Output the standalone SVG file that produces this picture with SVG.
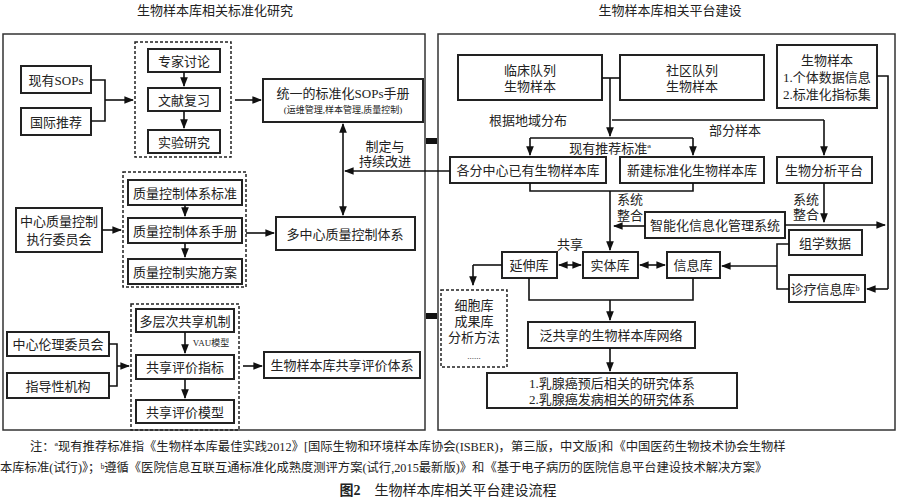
<svg xmlns="http://www.w3.org/2000/svg" width="897" height="500" viewBox="0 0 897 500">
<defs>
<marker id="a" viewBox="0 0 10 10" refX="9" refY="5" markerWidth="6" markerHeight="6" orient="auto-start-reverse"><path d="M0,1 L10,5 L0,9 z" fill="#111"/></marker>
<style>
text{font-family:"Liberation Serif","Noto Sans CJK SC",serif;fill:#222;font-size:13px;text-anchor:middle;dominant-baseline:central}
.b{fill:#fff;stroke:#222;stroke-width:2}
.p{fill:none;stroke:#333;stroke-width:1.5}
.d{fill:none;stroke:#222;stroke-width:1.5;stroke-dasharray:3 2}
.c path{fill:none;stroke:#111;stroke-width:1.6}
.ar{marker-end:url(#a)}
.ab{marker-end:url(#a);marker-start:url(#a)}
.s{font-size:9px}
.f{font-size:12.3px;text-anchor:start}
</style>
</defs>
<rect width="897" height="500" fill="#fff"/>
<text x="215" y="10">生物样本库相关标准化研究</text>
<text x="670" y="10">生物样本库相关平台建设</text>
<rect class="p" x="3" y="34" width="422" height="396"/>
<rect class="p" x="438" y="34" width="457" height="396"/>

<g id="g1"><rect class="d" x="135" y="42" width="96" height="115"/></g>
<g id="g2"><rect class="d" x="123" y="172" width="123" height="115"/></g>
<g id="g3"><rect class="d" x="131" y="304" width="108" height="126"/></g>

<g id="sops"><rect class="b" x="21" y="66" width="70" height="27"/><text x="56" y="80">现有SOPs</text></g>
<g id="gjtj"><rect class="b" x="21" y="108" width="70" height="27"/><text x="56" y="122">国际推荐</text></g>
<g id="zjtl"><rect class="b" x="148" y="49" width="72" height="23"/><text x="184" y="61">专家讨论</text></g>
<g id="wxfx"><rect class="b" x="148" y="88" width="72" height="23"/><text x="184" y="100">文献复习</text></g>
<g id="syyj"><rect class="b" x="148" y="130" width="72" height="23"/><text x="184" y="142">实验研究</text></g>
<g id="tysops"><rect class="b" x="263" y="79" width="160" height="43"/><text x="343" y="93">统一的标准化SOPs手册</text><text x="343" y="110" class="s">(运维管理,样本管理,质量控制)</text></g>
<g id="zkbz"><rect class="b" x="128" y="180" width="114" height="25"/><text x="185" y="193">质量控制体系标准</text></g>
<g id="zksc"><rect class="b" x="128" y="218" width="114" height="25"/><text x="185" y="231">质量控制体系手册</text></g>
<g id="zkfa"><rect class="b" x="128" y="259" width="114" height="25"/><text x="185" y="272">质量控制实施方案</text></g>
<g id="zxwyh"><rect class="b" x="16" y="208" width="86" height="44"/><text x="59" y="221">中心质量控制</text><text x="59" y="239">执行委员会</text></g>
<g id="dzx"><rect class="b" x="276" y="217" width="139" height="33"/><text x="345" y="234">多中心质量控制体系</text></g>
<g id="dcc"><rect class="b" x="136" y="309" width="98" height="23"/><text x="185" y="321">多层次共享机制</text></g>
<g id="gxzb"><rect class="b" x="136" y="355" width="98" height="24"/><text x="185" y="367">共享评价指标</text></g>
<g id="gxmx"><rect class="b" x="136" y="400" width="98" height="23"/><text x="185" y="412">共享评价模型</text></g>
<g id="llwyh"><rect class="b" x="7" y="332" width="102" height="24"/><text x="58" y="344">中心伦理委员会</text></g>
<g id="zdx"><rect class="b" x="7" y="373" width="102" height="25"/><text x="58" y="386">指导性机构</text></g>
<g id="gxtx"><rect class="b" x="264" y="352" width="156" height="26"/><text x="342" y="365">生物样本库共享评价体系</text></g>
<text x="385" y="146">制定与</text><text x="385" y="161">持续改进</text>
<text x="211" y="343" class="s">VAU模型</text>

<g id="lc"><rect class="b" x="458" y="55" width="144" height="45"/><text x="530" y="70">临床队列</text><text x="530" y="86">生物样本</text></g>
<g id="sq"><rect class="b" x="620" y="55" width="144" height="45"/><text x="692" y="70">社区队列</text><text x="692" y="86">生物样本</text></g>
<g id="swyb"><rect class="b" x="777" y="45" width="100" height="63"/><text x="827" y="60">生物样本</text><text x="827" y="77">1.个体数据信息</text><text x="827" y="94">2.标准化指标集</text></g>
<g id="gfzx"><rect class="b" x="450" y="157" width="156" height="26"/><text x="528" y="170">各分中心已有生物样本库</text></g>
<g id="xj"><rect class="b" x="620" y="157" width="144" height="26"/><text x="692" y="170">新建标准化生物样本库</text></g>
<g id="fxpt"><rect class="b" x="777" y="157" width="95" height="26"/><text x="824" y="170">生物分析平台</text></g>
<g id="znh"><rect class="b" x="645" y="212" width="140" height="26"/><text x="715" y="225">智能化信息化管理系统</text></g>
<g id="zxsj"><rect class="b" x="789" y="230" width="73" height="25"/><text x="825" y="243">组学数据</text></g>
<g id="zlxx"><rect class="b" x="789" y="275" width="76" height="27"/><text x="825" y="289">诊疗信息库ᵇ</text></g>
<g id="ysk"><rect class="b" x="502" y="252" width="55" height="26"/><text x="529" y="265">延伸库</text></g>
<g id="stk"><rect class="b" x="583" y="252" width="55" height="26"/><text x="610" y="265">实体库</text></g>
<g id="xxk"><rect class="b" x="667" y="252" width="53" height="26"/><text x="693" y="265">信息库</text></g>
<g id="xbk"><rect class="d" x="441" y="290" width="66" height="77"/><text x="474" y="305">细胞库</text><text x="474" y="321">成果库</text><text x="474" y="337">分析方法</text><text x="474" y="356" class="s">......</text></g>
<g id="fgx"><rect class="b" x="528" y="322" width="167" height="26"/><text x="611" y="335">泛共享的生物样本库网络</text></g>
<g id="yjtx"><rect class="b" x="487" y="373" width="250" height="35"/><text x="612" y="383">1.乳腺癌预后相关的研究体系</text><text x="612" y="399">2.乳腺癌发病相关的研究体系</text></g>
<text x="528" y="120">根据地域分布</text>
<text x="735" y="130">部分样本</text>
<text x="610" y="148">现有推荐标准ª</text>
<text x="630" y="199">系统</text><text x="630" y="215">整合</text>
<text x="806" y="199">系统</text><text x="806" y="214">整合</text>
<text x="570" y="244">共享</text>

<g id="connectors" class="c">
<path d="M91,80 H105 V121 H91"/>
<path class="ar" d="M105,100 H133"/>
<path class="ar" d="M184,72 V86"/><path class="ar" d="M184,111 V128"/>
<path class="ar" d="M235,100 H261"/>
<path class="ar" d="M102,230 H121"/>
<path class="ar" d="M185,205 V216"/><path class="ar" d="M185,243 V257"/>
<path class="ar" d="M246,233 H274"/>
<path class="ab" d="M343,124 V215"/>
<path class="ar" d="M450,171 H345"/>
<path d="M109,344 H117 V386 H109"/><path class="ar" d="M117,366 H129"/>
<path class="ar" d="M185,332 V353"/><path class="ar" d="M185,379 V398"/>
<path class="ar" d="M243,366 H262"/>
<path d="M426,141 H437 M426,316 H437" style="stroke-width:6"/>
<path d="M602,78 H620"/><path class="ar" d="M610,78 V136"/>
<path d="M612,120 H824"/><path class="ar" d="M824,120 V155"/>
<path d="M530,138 H693"/><path class="ar" d="M530,138 V155"/><path class="ar" d="M693,138 V155"/>
<path d="M530,183 V191 H693 V183"/><path class="ar" d="M610,191 V250"/>
<path class="ar" d="M645,226 H614"/>
<path class="ar" d="M824,183 V222"/><path class="ar" d="M785,225 H885"/>
<path d="M877,76 H888 V289"/><path class="ar" d="M888,289 H867"/>
<path d="M789,244 H777 V289 H789"/><path class="ar" d="M777,266 H722"/>
<path class="ab" d="M559,265 H581"/><path class="ab" d="M640,265 H665"/>
<path d="M502,265 H473"/><path class="ar" d="M473,265 V285"/>
<path d="M529,278 V300 H693 V278"/><path class="ar" d="M610,300 V320"/>
<path class="ar" d="M610,348 V371"/>
</g>
<text x="30" y="447" class="f">注：ª现有推荐标准指《生物样本库最佳实践2012》[国际生物和环境样本库协会(ISBER)，第三版，中文版]和《中国医药生物技术协会生物样</text>
<text x="0" y="468" class="f">本库标准(试行)》；ᵇ遵循《医院信息互联互通标准化成熟度测评方案(试行,2015最新版)》和《基于电子病历的医院信息平台建设技术解决方案》</text>
<text x="448" y="490" style="font-size:14px"><tspan font-weight="bold">图2</tspan><tspan dx="14">生物样本库相关平台建设流程</tspan></text>
</svg>
